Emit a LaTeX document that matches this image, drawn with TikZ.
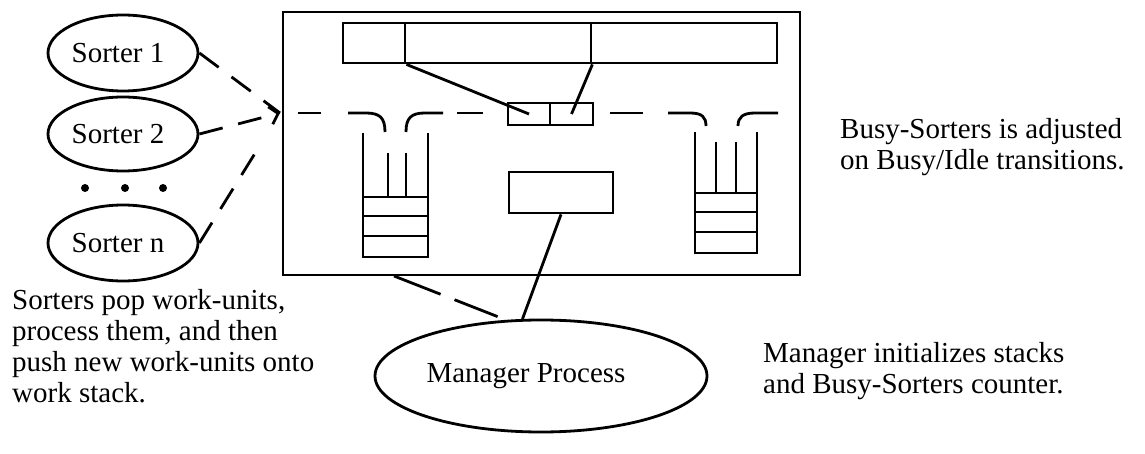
\documentclass[tikz,border=0pt]{standalone}
\usepackage{fontspec}
\setmainfont{Liberation Serif}
\usetikzlibrary{shapes.geometric,arrows.meta,calc}
\begin{document}
\begin{tikzpicture}[x=1pt,y=-1pt,
  ln/.style={line width=2.8pt},
  dsh/.style={line width=2.8pt, dash pattern=on 24pt off 16pt},
  oval/.style={draw, ellipse, line width=2.8pt, inner sep=0pt, font=\fontsize{29}{31}\selectfont},
  cell/.style={draw, rectangle, line width=2.8pt, inner sep=0pt},
  txt/.style={font=\fontsize{29}{31}\selectfont, inner sep=0pt, align=left, anchor=north west},
]
\useasboundingbox (0,0) rectangle (1145,454);

% sorters
\node[oval, minimum width=150pt, minimum height=76pt] (s1) at (123,53) {\kern-5pt Sorter 1\kern5pt};
\node[oval, minimum width=150pt, minimum height=74pt] (s2) at (123,134) {\kern-5pt Sorter 2\kern5pt};
\node[oval, minimum width=150pt, minimum height=76pt] (sn) at (123,243) {\kern-5pt Sorter n\kern5pt};
\fill (85,188) circle (4pt) (125,188) circle (4pt) (163,188) circle (4pt);

% manager
\node[oval, minimum width=332pt, minimum height=112pt] (mgr) at (541,376) {\kern-15pt Manager Process\kern15pt};

% main box
\node[draw, line width=2pt, minimum width=517pt, minimum height=263pt, inner sep=0pt] (box) at (541.5,143.5) {};

% top bar
\node[cell, minimum width=62pt, minimum height=40pt] (tb1) at (374,43) {};
\node[cell, minimum width=186pt, minimum height=40pt] (tb2) at (498,43) {};
\node[cell, minimum width=186pt, minimum height=40pt] (tb3) at (684,43) {};

% busy-sorters counter
\node[cell, minimum width=42pt, minimum height=22pt] (c1) at (529,114) {};
\node[cell, minimum width=43pt, minimum height=22pt] (c2) at (571.5,114) {};
\draw[ln] (tb1.south east) -- (c1.center);
\draw[ln] (tb2.south east) -- (c2.center);

% middle rectangle
\node[cell, minimum width=104pt, minimum height=41pt] (mr) at (561,192.5) {};
\draw[ln] (mr.south) -- (mgr.108);

% dashed manager link
\coordinate (bx) at (394,276);
\draw[ln, dash pattern=on 50pt off 15pt, shorten >=9pt] (bx) -- (mgr.122);

% sorter links
\coordinate (tip) at (280,113);
\draw[dsh] (s1.east) -- (tip);
\draw[dsh, -{Straight Barb[length=8pt,width=18pt,line width=2.8pt]}] (s2.east) -- (tip);
\draw[dsh, shorten >=38pt] (sn.east) -- (tip);

% work flow dashes
\draw[ln] (298,113) -- (321,113);
\draw[ln] (348,113) -- (366,113) .. controls (380,113) and (385,118) .. (385,132);
\draw[ln] (406,132) .. controls (406,118) and (411,113) .. (425,113) -- (443,113);
\draw[ln] (457,113) -- (483,113);
\draw[ln] (610,113) -- (643,113);
\draw[ln] (668,113) -- (690,113) .. controls (702,113) and (706,117) .. (706,126);
\draw[ln] (738,126) .. controls (738,117) and (743,113) .. (755,113) -- (778,113);

% left stack
\draw[ln] (363,133) -- (363,257) -- (428,257) -- (428,133);
\draw[ln] (363,197) -- (428,197) (363,216) -- (428,216) (363,236) -- (428,236);
\draw[ln] (388,153) -- (388,197) (406,153) -- (406,197);

% right stack
\draw[ln] (695,132) -- (695,253) -- (757,253) -- (757,132);
\draw[ln] (695,193) -- (757,193) (695,212) -- (757,212) (695,232) -- (757,232);
\draw[ln] (716,142) -- (716,193) (736,142) -- (736,193);

% texts
\node[txt] (tl) at (12,289) {Sorters pop work-units,\\process them, and then\\push new work-units onto\\work stack.};
\node[txt] (tr1) at (840,118) {Busy-Sorters is adjusted\\on Busy/Idle transitions.};
\node[txt] (tr2) at (763,342) {Manager initializes stacks\\and Busy-Sorters counter.};
\end{tikzpicture}
\end{document}
